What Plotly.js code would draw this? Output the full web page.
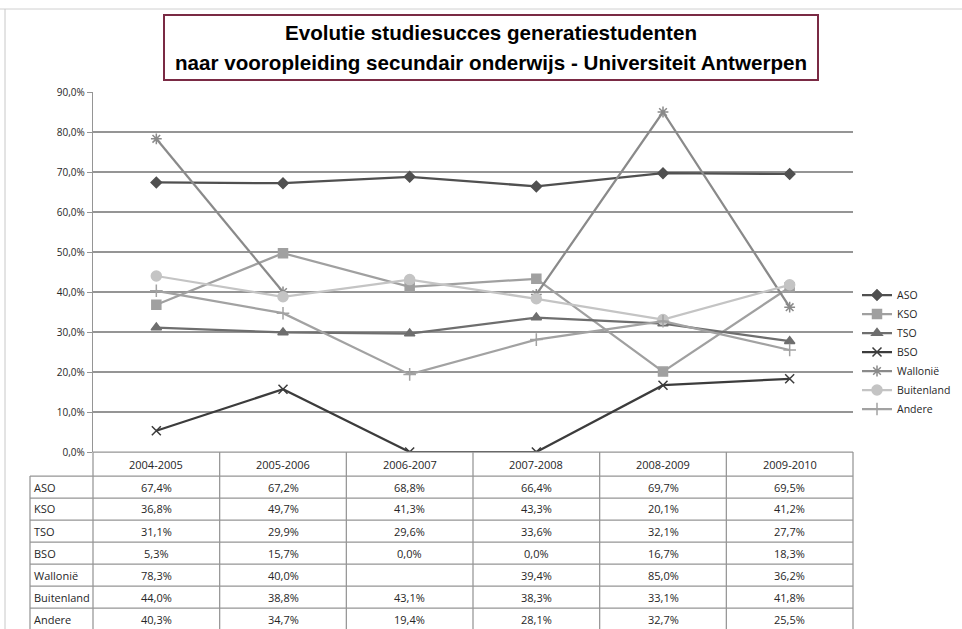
<!DOCTYPE html>
<html>
<head>
<meta charset="utf-8">
<script src="https://cdn.plot.ly/plotly-3.0.1.min.js"></script>
<style>html,body{margin:0;padding:0;background:#fff;}#chart{width:962px;height:629px;}</style>
</head>
<body>
<div id="chart"></div>
<script>
// ---- data ----
const categories = ['2004-2005','2005-2006','2006-2007','2007-2008','2008-2009','2009-2010'];
const seriesNames = ['ASO','KSO','TSO','BSO','Wallonië','Buitenland','Andere'];
const ASO        = [67.4, 67.2, 68.8, 66.4, 69.7, 69.5];
const KSO        = [36.8, 49.7, 41.3, 43.3, 20.1, 41.2];
const TSO        = [31.1, 29.9, 29.6, 33.6, 32.1, 27.7];
const BSO        = [5.3, 15.7, 0.0, 0.0, 16.7, 18.3];
const Wallonie   = [78.3, 40.0, null, 39.4, 85.0, 36.2];
const Buitenland = [44.0, 38.8, 43.1, 38.3, 33.1, 41.8];
const Andere     = [40.3, 34.7, 19.4, 28.1, 32.7, 25.5];
const yTicks = [0,10,20,30,40,50,60,70,80,90];
const titleLines = ['Evolutie studiesucces generatiestudenten',
                    'naar vooropleiding secundair onderwijs - Universiteit Antwerpen'];

const seriesValues = [ASO, KSO, TSO, BSO, Wallonie, Buitenland, Andere];
const colors  = ['#505050','#a0a0a0','#6e6e6e','#3c3c3c','#8a8a8a','#c4c4c4','#a2a2a2'];
const symbols = ['diamond','square','triangle-up','x-thin-open','asterisk-open','circle','cross-thin-open'];
const msizes  = [8,9,9,9,9,10,9];

const fmt = v => (v===null||v===undefined) ? '' : v.toFixed(1).replace('.',',')+'%';

const traces = seriesNames.map((n,i)=>({
  type:'scatter', mode:'lines+markers', name:n, x:categories, y:seriesValues[i],
  connectgaps:false,
  line:{color:colors[i], width:2.25},
  marker:{symbol:symbols[i], size:msizes[i], color:colors[i], line:{color:colors[i], width:1.5}}
}));

// geometry helpers (pixel -> paper)
const L=93, R=853, T=92, B=452, W=962, H=629;
const py = p => (B - p)/(B - T);
const px = p => (p - L)/(R - L);
const colW = (R - L)/categories.length;

const shapes = [];
const annotations = [];
const gridCol = '#959595';
// outer chart border
shapes.push({type:'line', xref:'paper', yref:'paper', x0:px(0), x1:px(W), y0:py(9), y1:py(9), line:{color:'#d0d0d0', width:1}});
shapes.push({type:'line', xref:'paper', yref:'paper', x0:px(5), x1:px(5), y0:py(9), y1:py(H+2), line:{color:'#c8c8c8', width:1}});
// title box
shapes.push({type:'rect', xref:'paper', yref:'paper', x0:px(164), x1:px(818), y0:py(15), y1:py(80), line:{color:'#7a2a44', width:2}, fillcolor:'rgba(0,0,0,0)'});
const titleFont = {family:'Liberation Sans, Arial, sans-serif', size:20.6, color:'#000'};
annotations.push({xref:'paper', yref:'paper', x:px(491), y:py(33), text:'<b>'+titleLines[0]+'</b>', showarrow:false, font:titleFont, xanchor:'center', yanchor:'middle'});
annotations.push({xref:'paper', yref:'paper', x:px(491), y:py(62), text:'<b>'+titleLines[1]+'</b>', showarrow:false, font:titleFont, xanchor:'center', yanchor:'middle'});

// data table
const rowTop = 476, rowH = 22, tableLeft = 30;
shapes.push({type:'line', xref:'paper', yref:'paper', x0:px(L), x1:px(R), y0:py(452), y1:py(452), line:{color:gridCol, width:1.25}});
for (let r=0; r<=seriesNames.length; r++){
  const yy = rowTop + r*rowH;
  shapes.push({type:'line', xref:'paper', yref:'paper', x0:px(tableLeft), x1:px(R), y0:py(yy), y1:py(yy), line:{color:gridCol, width:1.25}});
}
for (let c=0; c<=categories.length; c++){
  const xx = L + c*colW;
  shapes.push({type:'line', xref:'paper', yref:'paper', x0:px(xx), x1:px(xx), y0:py(452), y1:py(H+5), line:{color:gridCol, width:1.25}});
}
shapes.push({type:'line', xref:'paper', yref:'paper', x0:px(tableLeft), x1:px(tableLeft), y0:py(rowTop), y1:py(H+5), line:{color:gridCol, width:1.25}});

const tFont = {family:'Open Sans, sans-serif', size:11, color:'#262626'};
categories.forEach((c,i)=>{
  annotations.push({xref:'paper', yref:'paper', x:px(L + (i+0.5)*colW), y:py(464), text:c, showarrow:false, font:tFont, xanchor:'center', yanchor:'middle'});
});
seriesNames.forEach((n,r)=>{
  const cy = rowTop + r*rowH + rowH/2;
  annotations.push({xref:'paper', yref:'paper', x:px(tableLeft+2), y:py(cy), text:n, showarrow:false, font:tFont, xanchor:'left', yanchor:'middle'});
  seriesValues[r].forEach((v,i)=>{
    const t = fmt(v);
    if (t) annotations.push({xref:'paper', yref:'paper', x:px(L + (i+0.5)*colW), y:py(cy), text:t, showarrow:false, font:tFont, xanchor:'center', yanchor:'middle'});
  });
});

const layout = {
  width:W, height:H,
  margin:{l:L, r:W-R, t:T, b:H-B, pad:0, autoexpand:false},
  paper_bgcolor:'#ffffff', plot_bgcolor:'#ffffff',
  showlegend:true,
  xaxis:{type:'category', range:[-0.5,5.5], showticklabels:false, ticks:'', showgrid:false, zeroline:false, showline:false, fixedrange:true},
  yaxis:{range:[0,90], tickmode:'array', tickvals:yTicks, ticktext:yTicks.map(fmt), ticks:'outside', ticklen:5, tickcolor:gridCol,
         showline:true, linecolor:gridCol, linewidth:1.25, showgrid:true, gridcolor:gridCol, gridwidth:1.25, zeroline:false,
         tickfont:{family:'Open Sans, sans-serif', size:10, color:'#262626'}, fixedrange:true},
  legend:{x:px(857), xanchor:'left', y:py(352), yanchor:'middle', font:{family:'Open Sans, sans-serif', size:10.5, color:'#262626'},
          bgcolor:'rgba(0,0,0,0)', tracegroupgap:0, itemwidth:30, tracegroupgap:0},
  shapes:shapes, annotations:annotations
};

Plotly.newPlot('chart', traces, layout, {displayModeBar:false, staticPlot:true});
</script>
</body>
</html>
